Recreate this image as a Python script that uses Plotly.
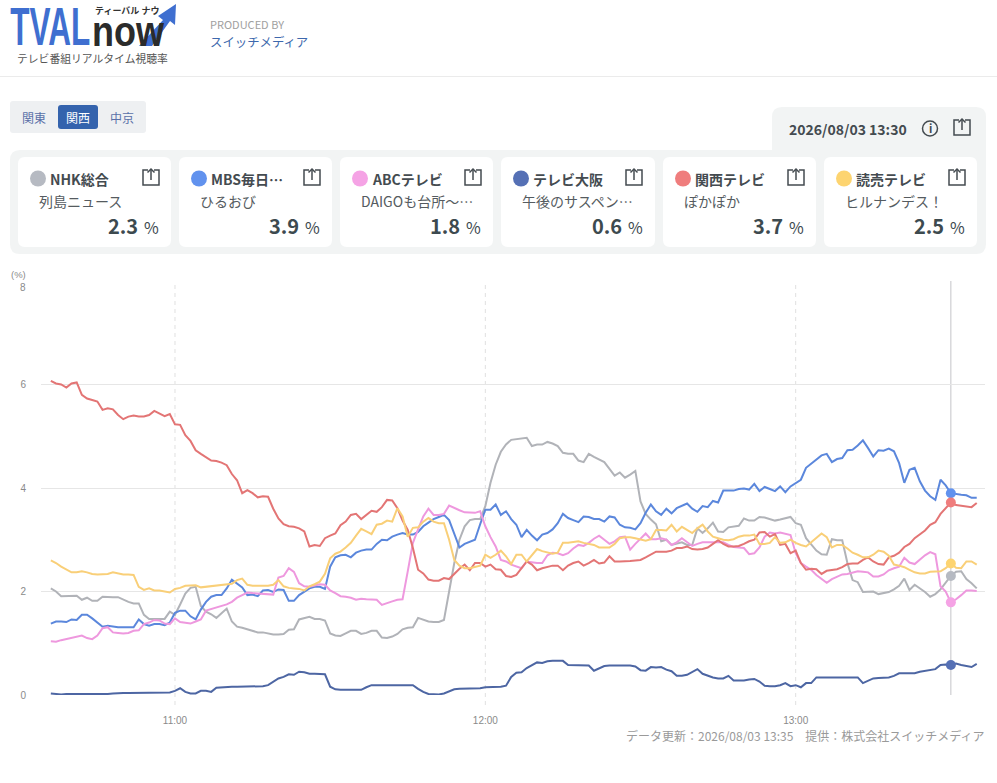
import pandas as pd
import plotly.graph_objects as go

W = 997
H = 783

# one reading a minute, 10:36 to 13:35
times = list(pd.date_range("2026-08-03 10:36", "2026-08-03 13:35", freq="1min"))

nhk = [2.06, 2.00, 1.91, 1.91, 1.92, 1.92, 1.84, 1.88, 1.82, 1.82,
       1.90, 1.89, 1.89, 1.89, 1.84, 1.80, 1.77, 1.77, 1.55, 1.47,
       1.47, 1.47, 1.47, 1.61, 1.55, 1.75, 1.96, 2.07, 2.09, 1.72,
       1.61, 1.56, 1.49, 1.58, 1.67, 1.42, 1.32, 1.30, 1.27, 1.24,
       1.21, 1.21, 1.19, 1.17, 1.17, 1.18, 1.26, 1.27, 1.46, 1.49,
       1.51, 1.47, 1.47, 1.44, 1.19, 1.15, 1.14, 1.19, 1.24, 1.24,
       1.18, 1.20, 1.24, 1.24, 1.11, 1.10, 1.13, 1.18, 1.27, 1.30,
       1.31, 1.49, 1.45, 1.42, 1.41, 1.41, 1.45, 2.00, 2.55, 3.00,
       3.26, 3.38, 3.40, 3.40, 3.65, 4.10, 4.45, 4.70, 4.84, 4.93,
       4.94, 4.95, 4.97, 4.81, 4.84, 4.84, 4.89, 4.86, 4.81, 4.68,
       4.66, 4.66, 4.53, 4.50, 4.66, 4.60, 4.55, 4.50, 4.37, 4.24,
       4.30, 4.20, 4.26, 4.33, 3.74, 3.50, 3.39, 3.30, 2.97, 3.00,
       2.90, 2.93, 2.95, 2.90, 2.90, 3.22, 3.13, 3.22, 3.33, 3.16,
       3.15, 3.24, 3.26, 3.27, 3.41, 3.37, 3.37, 3.44, 3.43, 3.40,
       3.37, 3.39, 3.41, 3.44, 3.32, 3.29, 3.03, 2.90, 2.79, 2.72,
       2.71, 3.01, 2.99, 2.99, 2.55, 2.22, 2.18, 1.99, 2.00, 2.00,
       1.95, 1.97, 1.99, 2.04, 2.11, 2.25, 2.03, 2.13, 2.06, 1.99,
       1.90, 1.95, 2.04, 2.17, 2.30, 2.38, 2.39, 2.24, 2.16, 2.06]
mbs = [1.38, 1.42, 1.42, 1.41, 1.46, 1.45, 1.55, 1.55, 1.48, 1.40,
       1.32, 1.34, 1.32, 1.31, 1.31, 1.31, 1.31, 1.46, 1.37, 1.34,
       1.37, 1.37, 1.35, 1.40, 1.59, 1.63, 1.63, 1.52, 1.46, 1.65,
       1.80, 1.90, 1.93, 1.93, 2.06, 2.23, 2.16, 2.08, 1.93, 1.94,
       1.91, 2.02, 2.03, 1.99, 2.04, 2.03, 1.82, 1.82, 1.93, 2.00,
       2.06, 2.09, 2.09, 2.05, 2.48, 2.66, 2.70, 2.71, 2.66, 2.75,
       2.79, 2.81, 2.81, 2.92, 3.00, 2.99, 3.06, 3.10, 3.13, 3.10,
       3.10, 3.15, 3.26, 3.33, 3.40, 3.44, 3.48, 3.38, 3.13, 2.85,
       2.92, 2.96, 3.00, 3.30, 3.58, 3.58, 3.68, 3.48, 3.55, 3.40,
       3.29, 3.05, 3.19, 3.08, 2.99, 3.10, 3.13, 3.20, 3.32, 3.50,
       3.42, 3.38, 3.34, 3.45, 3.44, 3.40, 3.40, 3.35, 3.45, 3.43,
       3.29, 3.24, 3.23, 3.20, 3.32, 3.52, 3.68, 3.55, 3.48, 3.60,
       3.51, 3.61, 3.65, 3.70, 3.60, 3.54, 3.65, 3.63, 3.75, 3.72,
       3.95, 3.95, 3.95, 3.98, 3.99, 3.97, 4.08, 3.94, 4.02, 3.98,
       3.94, 4.03, 3.92, 4.03, 4.10, 4.16, 4.39, 4.47, 4.55, 4.63,
       4.66, 4.50, 4.56, 4.58, 4.73, 4.74, 4.82, 4.92, 4.77, 4.61,
       4.73, 4.72, 4.76, 4.71, 4.48, 4.10, 4.35, 4.39, 4.13, 3.95,
       3.84, 3.77, 4.16, 4.05, 3.90, 3.88, 3.87, 3.86, 3.81, 3.81]
abc = [1.04, 1.03, 1.06, 1.08, 1.11, 1.13, 1.15, 1.10, 1.08, 1.15,
       1.29, 1.31, 1.21, 1.20, 1.19, 1.20, 1.24, 1.25, 1.37, 1.40,
       1.45, 1.44, 1.38, 1.37, 1.48, 1.41, 1.40, 1.38, 1.42, 1.46,
       1.63, 1.66, 1.69, 1.72, 1.75, 1.80, 1.88, 1.93, 1.98, 1.97,
       1.96, 1.96, 1.95, 1.94, 2.27, 2.30, 2.45, 2.38, 2.16, 2.10,
       2.09, 2.12, 2.14, 2.13, 2.02, 1.97, 1.91, 1.90, 1.88, 1.84,
       1.86, 1.85, 1.84, 1.84, 1.74, 1.78, 1.81, 1.84, 1.85, 2.39,
       2.94, 3.20, 3.45, 3.60, 3.48, 3.48, 3.50, 3.66, 3.61, 3.57,
       3.53, 3.52, 3.52, 3.55, 3.26, 3.05, 2.87, 2.61, 2.58, 2.52,
       2.48, 2.45, 2.58, 2.56, 2.55, 2.55, 2.70, 2.75, 2.74, 2.70,
       2.74, 2.83, 2.90, 2.88, 2.94, 3.02, 3.08, 3.00, 2.92, 2.97,
       3.05, 3.06, 2.81, 2.92, 3.03, 3.12, 3.01, 3.01, 3.03, 3.00,
       2.90, 2.95, 3.03, 2.96, 2.88, 2.92, 2.95, 2.95, 2.95, 2.95,
       2.95, 2.90, 2.86, 2.85, 2.84, 2.72, 2.74, 2.85, 3.06, 3.14,
       3.12, 3.14, 3.12, 3.09, 2.74, 2.55, 2.48, 2.42, 2.32, 2.25,
       2.17, 2.24, 2.29, 2.33, 2.34, 2.36, 2.39, 2.38, 2.37, 2.29,
       2.29, 2.33, 2.41, 2.45, 2.48, 2.65, 2.56, 2.53, 2.61, 2.70,
       2.76, 2.72, 2.10, 2.00, 1.79, 1.85, 1.93, 2.02, 2.02, 2.01]
tvo = [0.03, 0.02, 0.01, 0.02, 0.02, 0.02, 0.01, 0.01, 0.01, 0.01,
       0.01, 0.02, 0.03, 0.04, 0.04, 0.04, 0.04, 0.04, 0.04, 0.04,
       0.04, 0.04, 0.04, 0.05, 0.08, 0.13, 0.06, 0.03, 0.03, 0.08,
       0.08, 0.06, 0.14, 0.15, 0.16, 0.16, 0.16, 0.16, 0.16, 0.17,
       0.17, 0.17, 0.19, 0.25, 0.32, 0.35, 0.40, 0.39, 0.45, 0.44,
       0.41, 0.41, 0.41, 0.40, 0.16, 0.11, 0.10, 0.10, 0.10, 0.10,
       0.10, 0.15, 0.19, 0.19, 0.19, 0.19, 0.19, 0.19, 0.19, 0.19,
       0.19, 0.12, 0.06, 0.02, 0.01, 0.01, 0.03, 0.07, 0.11, 0.12,
       0.12, 0.12, 0.12, 0.13, 0.15, 0.15, 0.15, 0.16, 0.18, 0.35,
       0.43, 0.44, 0.52, 0.57, 0.63, 0.62, 0.65, 0.66, 0.66, 0.66,
       0.58, 0.58, 0.57, 0.57, 0.57, 0.47, 0.52, 0.56, 0.57, 0.57,
       0.57, 0.57, 0.57, 0.55, 0.48, 0.47, 0.54, 0.53, 0.54, 0.49,
       0.46, 0.37, 0.37, 0.39, 0.45, 0.50, 0.41, 0.37, 0.34, 0.32,
       0.32, 0.37, 0.28, 0.28, 0.28, 0.30, 0.31, 0.26, 0.18, 0.17,
       0.17, 0.19, 0.23, 0.17, 0.19, 0.15, 0.23, 0.23, 0.34, 0.34,
       0.34, 0.34, 0.34, 0.34, 0.34, 0.34, 0.34, 0.23, 0.28, 0.32,
       0.33, 0.33, 0.34, 0.37, 0.42, 0.42, 0.42, 0.42, 0.45, 0.47,
       0.49, 0.50, 0.58, 0.59, 0.58, 0.61, 0.58, 0.56, 0.54, 0.60]
ktv = [6.07, 6.02, 6.00, 5.94, 6.02, 6.04, 5.80, 5.73, 5.70, 5.67,
       5.51, 5.54, 5.52, 5.41, 5.33, 5.38, 5.40, 5.38, 5.38, 5.41,
       5.49, 5.44, 5.39, 5.43, 5.23, 5.22, 5.02, 4.91, 4.73, 4.66,
       4.59, 4.53, 4.52, 4.49, 4.44, 4.27, 4.15, 3.90, 3.96, 3.90,
       3.82, 3.84, 3.83, 3.60, 3.41, 3.30, 3.26, 3.25, 3.22, 3.16,
       2.87, 2.90, 2.88, 3.03, 3.08, 3.12, 3.28, 3.35, 3.48, 3.50,
       3.40, 3.48, 3.56, 3.54, 3.63, 3.77, 3.76, 3.61, 3.37, 3.19,
       2.84, 2.42, 2.35, 2.23, 2.21, 2.21, 2.26, 2.24, 2.35, 2.44,
       2.52, 2.41, 2.55, 2.55, 2.48, 2.52, 2.43, 2.42, 2.30, 2.28,
       2.32, 2.45, 2.58, 2.52, 2.41, 2.45, 2.48, 2.50, 2.50, 2.41,
       2.50, 2.55, 2.58, 2.50, 2.55, 2.61, 2.54, 2.56, 2.68, 2.58,
       2.58, 2.58, 2.59, 2.60, 2.61, 2.66, 2.71, 2.77, 2.77, 2.77,
       2.79, 2.84, 2.84, 2.87, 2.82, 2.81, 2.82, 2.85, 2.92, 2.99,
       2.92, 2.87, 2.87, 2.88, 2.92, 2.97, 3.00, 3.14, 3.15, 3.06,
       3.11, 2.90, 2.92, 2.74, 2.79, 2.55, 2.42, 2.44, 2.43, 2.34,
       2.40, 2.41, 2.43, 2.47, 2.53, 2.54, 2.54, 2.61, 2.66, 2.58,
       2.53, 2.52, 2.66, 2.69, 2.75, 2.86, 2.92, 3.03, 3.10, 3.18,
       3.29, 3.34, 3.50, 3.61, 3.72, 3.67, 3.66, 3.64, 3.63, 3.71]
ytv = [2.60, 2.55, 2.48, 2.42, 2.37, 2.37, 2.39, 2.37, 2.34, 2.33,
       2.33, 2.34, 2.37, 2.35, 2.33, 2.33, 2.32, 2.09, 2.03, 2.06,
       2.02, 2.02, 2.00, 1.98, 2.05, 2.07, 2.11, 2.11, 2.12, 2.08,
       2.09, 2.11, 2.12, 2.13, 2.13, 2.15, 2.22, 2.25, 2.13, 2.11,
       2.11, 2.11, 2.11, 2.13, 2.22, 2.10, 2.07, 2.06, 2.05, 2.02,
       2.10, 2.14, 2.19, 2.34, 2.64, 2.73, 2.77, 2.85, 2.94, 3.08,
       3.21, 3.16, 3.11, 3.29, 3.31, 3.37, 3.35, 3.61, 3.45, 3.06,
       3.23, 3.24, 3.35, 3.42, 3.35, 3.32, 3.32, 3.00, 2.61, 2.50,
       2.45, 2.45, 2.47, 2.50, 2.71, 2.65, 2.71, 2.79, 2.68, 2.53,
       2.71, 2.71, 2.58, 2.70, 2.82, 2.78, 2.75, 2.73, 2.75, 2.94,
       2.94, 2.95, 2.97, 2.94, 2.92, 2.90, 2.85, 2.85, 2.85, 2.92,
       3.03, 3.05, 3.05, 3.03, 3.00, 2.98, 3.01, 3.19, 3.19, 3.18,
       3.29, 3.16, 3.25, 3.19, 3.13, 3.22, 3.29, 3.16, 3.06, 3.03,
       3.00, 2.99, 3.01, 3.06, 3.08, 3.08, 3.10, 2.92, 2.92, 2.94,
       3.05, 2.94, 2.95, 3.00, 2.94, 2.90, 2.87, 2.95, 3.03, 3.12,
       3.05, 2.85, 2.90, 2.90, 2.83, 2.75, 2.71, 2.66, 2.66, 2.71,
       2.79, 2.77, 2.69, 2.52, 2.50, 2.47, 2.42, 2.37, 2.35, 2.35,
       2.38, 2.39, 2.39, 2.45, 2.54, 2.46, 2.45, 2.58, 2.58, 2.52]

channels = ["NHK総合", "MBS毎日…", "ABCテレビ", "テレビ大阪", "関西テレビ", "読売テレビ"]
programs = ["列島ニュース", "ひるおび", "DAIGOも台所〜…", "午後のサスペン…", "ぽかぽか", "ヒルナンデス！"]
card_values = ["2.3", "3.9", "1.8", "0.6", "3.7", "2.5"]
series = [nhk, mbs, abc, tvo, ktv, ytv]
line_colors = ["#b1b3b8", "#5b87dc", "#ee98de", "#4d66a3", "#e37575", "#f9cf78"]
dot_colors = ["#b6bac2", "#6192ee", "#f5a3e5", "#5570b5", "#ef7d7d", "#fdd470"]
card_left = [18, 179, 340, 501, 663, 824]
hour_ticks = ["2026-08-03 11:00", "2026-08-03 12:00", "2026-08-03 13:00"]
y_ticks = [0, 2, 4, 6, 8]
y_labels = ["0", "2", "4", "6", ""]
cursor_time = pd.Timestamp("2026-08-03 13:30")
cursor_i = times.index(cursor_time)

for s in series:
    assert len(s) == len(times)

JP = "Noto Sans CJK JP"


def px(x):
    return x / W


def py(y):
    return 1 - y / H


shapes = []
annots = []


def label(x, y, text, size, color, anchor="left", bold=False, family=JP):
    annots.append(dict(x=px(x), y=py(y), xref="paper", yref="paper", text=text, showarrow=False,
                       xanchor=anchor, yanchor="middle", borderpad=0,
                       font=dict(family=family, size=size, color=color, weight=700 if bold else 400)))


def rrect(x0, y0, x1, y1, r, color):
    a, b, c, d = px(x0), py(y0), px(x1), py(y1)
    rx, ry = r / W, r / H
    p = (f"M {a+rx} {b} L {c-rx} {b} Q {c} {b} {c} {b-ry} L {c} {d+ry} Q {c} {d} {c-rx} {d} "
         f"L {a+rx} {d} Q {a} {d} {a} {d+ry} L {a} {b-ry} Q {a} {b} {a+rx} {b} Z")
    shapes.append(dict(type="path", xref="paper", yref="paper", path=p, fillcolor=color, line=dict(width=0), layer="below"))


def poly(points, color=None, line_color=None, width=1.5, close=False):
    p = "M " + " L ".join(f"{px(a)} {py(b)}" for a, b in points) + (" Z" if close else "")
    shapes.append(dict(type="path", xref="paper", yref="paper", path=p,
                       fillcolor=color if color else "rgba(0,0,0,0)",
                       line=dict(width=width if line_color else 0, color=line_color or "rgba(0,0,0,0)")))


def dot(cx, cy, r, color, line_color=None):
    shapes.append(dict(type="circle", xref="paper", yref="paper", x0=px(cx - r), x1=px(cx + r), y0=py(cy + r), y1=py(cy - r),
                       fillcolor=color if color else "rgba(0,0,0,0)",
                       line=dict(width=1.5 if line_color else 0, color=line_color or "rgba(0,0,0,0)")))


def share_icon(cx, cy):
    c = "#444b50"
    poly([(cx - 3, cy - 7), (cx - 8, cy - 7), (cx - 8, cy + 8), (cx + 8, cy + 8), (cx + 8, cy - 7), (cx + 3, cy - 7)], line_color=c)
    poly([(cx, cy + 3), (cx, cy - 8)], line_color=c)
    poly([(cx - 3.5, cy - 4.5), (cx, cy - 8), (cx + 3.5, cy - 4.5)], line_color=c)


# header
shapes.append(dict(type="line", xref="paper", yref="paper", x0=0, x1=1, y0=py(76.5), y1=py(76.5), line=dict(color="#ebebeb", width=1)))
label(50, 26, "TVAL", 53, "#3f6fd0", "center", bold=True, family="Liberation Sans")
label(128, 31, "now", 42, "#2b2b2b", "center", bold=True, family="Liberation Sans")
poly([(139, 46), (163, 20), (158, 16), (176, 4), (175, 25), (170, 21), (152, 46)], color="#3f6fd0", close=True)
label(94, 11, "ティーバル ナウ", 9, "#333333", bold=True)
label(16, 58, "テレビ番組リアルタイム視聴率", 10.8, "#555555")
label(209, 24, "PRODUCED BY", 11, "#a0a0a0")
label(209, 42, "スイッチメディア", 12.4, "#3d68ad")

# region tabs
rrect(10, 101, 146, 133, 3, "#eef0f2")
rrect(58, 105, 98, 129, 3, "#3463ad")
label(34, 117, "関東", 12, "#5a70a8", "center")
label(78, 117, "関西", 12, "#ffffff", "center")
label(122, 117, "中京", 12, "#5a70a8", "center")

# panels
rrect(772, 107, 986, 170, 10, "#f2f4f4")
rrect(10, 150, 986, 254, 10, "#f2f4f4")
label(788, 129, "2026/08/03 13:30", 14, "#444b50", bold=True)
dot(930, 128.5, 7.5, None, "#444b50")
label(930, 128.5, "i", 11, "#444b50", "center", bold=True)
share_icon(962, 127)

for i, left in enumerate(card_left):
    right = left + (154 if left == 501 else 153)
    rrect(left, 157, right, 247, 7, "#ffffff")
    dot(left + 20, 178.5, 8, dot_colors[i])
    label(left + 31, 178.5, channels[i], 14, "#444b50", bold=True)
    share_icon(left + 133, 177)
    label(left + 20, 201, programs[i], 14, "#555b60")
    label(right - 32, 226, card_values[i], 20, "#3d4a4f", "right", bold=True)
    label(right - 11.5, 227, "%", 16, "#3d4a4f", "right")

# chart
fig = go.Figure()
for i, s in enumerate(series):
    fig.add_trace(go.Scatter(x=times, y=s, mode="lines", name=channels[i],
                             line=dict(color=line_colors[i], width=2), hoverinfo="skip"))
for i, s in enumerate(series):
    fig.add_trace(go.Scatter(x=[times[cursor_i]], y=[s[cursor_i]], mode="markers",
                             marker=dict(color=dot_colors[i], size=10), hoverinfo="skip"))

for t in hour_ticks:
    shapes.append(dict(type="line", xref="x", yref="paper", x0=t, x1=t, y0=py(705), y1=py(281),
                       line=dict(color="#e0e0e0", width=1, dash="4px,4px"), layer="below"))
shapes.append(dict(type="line", xref="x", yref="paper", x0=cursor_time, x1=cursor_time, y0=py(695), y1=py(281),
                   line=dict(color="#c4c4c8", width=1), layer="below"))

label(18, 275, "(%)", 9.5, "#8a8a8a", "center", family="Liberation Sans")
label(23, 287, "8", 10, "#8a8a8a", "center", family="Liberation Sans")
label(985.5, 735, "データ更新：2026/08/03 13:35　提供：株式会社スイッチメディア", 12, "#9a9a9a", "right")

fig.update_layout(
    width=W, height=H, margin=dict(l=0, r=0, t=0, b=0, pad=0, autoexpand=False),
    paper_bgcolor="#ffffff", plot_bgcolor="#ffffff", showlegend=False,
    shapes=shapes, annotations=annots,
    xaxis=dict(domain=[px(41), px(985)], type="date",
               range=["2026-08-03 10:34:06", "2026-08-03 13:36:36"],
               tickvals=hour_ticks, tickformat="%H:%M", showgrid=False, zeroline=False, showline=False,
               ticks="outside", ticklen=10, tickcolor="rgba(0,0,0,0)", ticklabelstandoff=6,
               tickfont=dict(family="Liberation Sans", size=10, color="#8a8a8a")),
    yaxis=dict(domain=[py(695), py(281)], range=[0, 8], tickvals=y_ticks, ticktext=y_labels,
               showgrid=True, gridcolor="#e6e6e6", gridwidth=1, zeroline=False, showline=False,
               ticks="outside", ticklen=12, tickcolor="rgba(0,0,0,0)",
               tickfont=dict(family="Liberation Sans", size=10, color="#8a8a8a")),
)

# the logo lettering is condensed, so squeeze those two labels to their width
squeeze = """
document.body.style.margin='0';document.body.style.overflow='hidden';
document.querySelectorAll('text.annotation-text').forEach(function(t){
  if(t.textContent==='TVAL'){t.setAttribute('textLength','80');t.setAttribute('lengthAdjust','spacingAndGlyphs');}
  if(t.textContent==='now'){t.setAttribute('textLength','72');t.setAttribute('lengthAdjust','spacingAndGlyphs');}
});
"""
fig.write_html("out.html", config={"displayModeBar": False}, post_script=squeeze)
